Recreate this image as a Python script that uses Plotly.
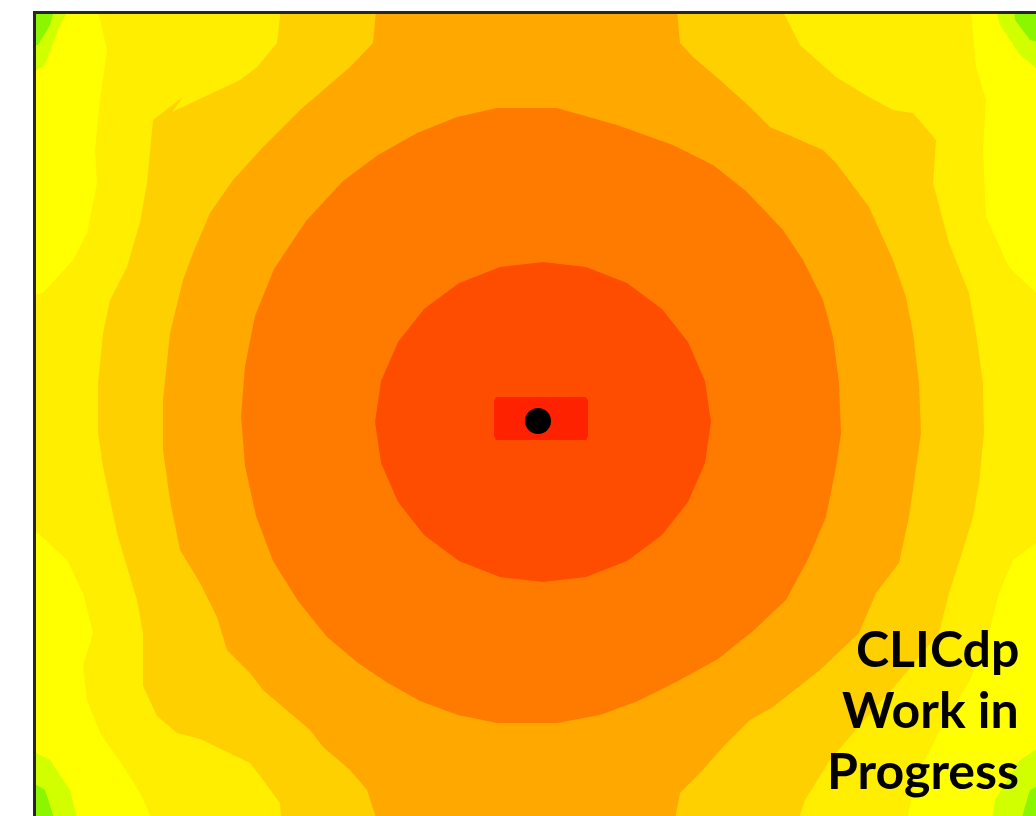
import plotly.graph_objects as go

# Band outlines of the occupancy map, coordinates in mm around the beam spot.
# Each band is drawn as a filled outline, from the outermost level inward.

yellow_bg = "#ffee00"

lobe_tl = [(-518, 431), (-445, 431), (-431, 371), (-438, 321), (-443, 271), (-441, 238),
           (-451, 188), (-465, 161), (-495, 128), (-518, 124)]
lobe_bl = [(-518, -409), (-381, -409), (-398, -372), (-415, -345), (-438, -312), (-451, -279),
           (-455, -245), (-445, -212), (-455, -172), (-471, -139), (-500, -112), (-518, -112)]
lobe_tr = [(431, 431), (438, 354), (448, 321), (445, 271), (448, 204), (471, 154),
           (498, 128), (512, 121), (512, 431)]
lobe_br = [(512, -122), (498, -122), (475, -139), (461, -172), (451, -212), (432, -259),
           (402, -309), (377, -359), (367, -409), (512, -409)]

lime_tl = [(-518, 431), (-458, 431), (-478, 396), (-493, 356), (-518, 341)]
lime_tr = [(452, 431), (512, 431), (512, 341), (482, 366), (462, 396)]
lime_bl = [(-518, -324), (-488, -339), (-468, -369), (-458, -409), (-518, -409)]
lime_br = [(512, -319), (482, -339), (457, -379), (452, -409), (512, -409)]

green_tl = [(-518, 431), (-478, 431), (-488, 396), (-500, 376), (-518, 376)]
green_tr = [(474, 431), (512, 431), (512, 376), (492, 381), (477, 401)]
green_bl = [(-518, -354), (-493, -369), (-480, -409), (-518, -409)]
green_br = [(512, -359), (492, -369), (480, -409), (512, -409)]

band_gold = [(-255, 431), (234, 431), (262, 376), (298, 344), (331, 324), (355, 311), (375, 308),
             (398, 281), (395, 238), (411, 178), (431, 128), (438, 88), (445, 38), (446, -12),
             (441, -62), (435, -96), (425, -129), (411, -172), (401, -212), (362, -259),
             (322, -304), (292, -339), (267, -379), (257, -409), (-256, -409), (-258, -382),
             (-275, -359), (-288, -342), (-338, -318), (-361, -312), (-381, -295), (-395, -265),
             (-395, -212), (-401, -179), (-411, -146), (-421, -112), (-428, -79), (-435, -46),
             (-440, -12), (-440, 38), (-435, 88), (-428, 121), (-411, 154), (-398, 199),
             (-391, 238), (-388, 274), (-385, 301), (-355, 324), (-366, 309), (-298, 341),
             (-281, 354), (-261, 378)]

band_amber = [(-160, 431), (137, 431), (142, 378), (155, 364), (182, 341), (212, 314), (232, 294),
              (262, 281), (285, 271), (298, 258), (331, 214), (355, 161), (368, 124), (375, 88),
              (381, 38), (383, -12), (378, -46), (371, -96), (361, -142), (338, -172),
              (321, -212), (282, -249), (235, -286), (212, -299), (185, -326), (162, -352),
              (142, -372), (135, -409), (-158, -409), (-171, -369), (-188, -349), (-215, -326),
              (-228, -309), (-255, -286), (-275, -269), (-288, -252), (-311, -229), (-321, -196),
              (-338, -162), (-358, -129), (-368, -79), (-375, -29), (-375, 21), (-368, 88),
              (-355, 141), (-345, 168), (-328, 208), (-305, 241), (-275, 274), (-238, 311),
              (-211, 334), (-188, 354), (-165, 378)]

band_orange = [(-41, 313), (19, 313), (79, 296), (135, 276), (175, 256), (208, 230), (245, 191),
               (265, 161), (285, 121), (295, 84), (301, 38), (303, -12), (298, -46), (288, -96),
               (271, -136), (248, -179), (215, -210), (180, -238), (140, -260), (100, -280),
               (62, -294), (19, -302), (-41, -302), (-80, -294), (-118, -280), (-150, -262),
               (-180, -242), (-211, -216), (-240, -180), (-265, -140), (-282, -95), (-293, -45),
               (-297, 5), (-293, 55), (-283, 105), (-264, 152), (-232, 200), (-195, 240),
               (-160, 266), (-121, 288), (-81, 304)]

band_vermilion = [(173, -1), (167, 40), (150, 79), (124, 112), (89, 138), (48, 154), (5, 159),
                  (-38, 154), (-79, 138), (-114, 112), (-140, 79), (-157, 40), (-163, -1),
                  (-157, -42), (-140, -81), (-114, -114), (-79, -140), (-38, -156), (5, -161),
                  (48, -156), (89, -140), (124, -114), (150, -81), (167, -42)]

band_core = [(-44, 20), (-42, 24), (48, 24), (50, 20), (50, -15), (48, -19), (-42, -19), (-44, -15)]

beam_spot = (0, 0)

layers = [
    (lobe_tl, "#ffff00"), (lobe_bl, "#ffff00"), (lobe_tr, "#ffff00"), (lobe_br, "#ffff00"),
    (lime_tl, "#d2ff00"), (lime_tr, "#d2ff00"), (lime_bl, "#d2ff00"), (lime_br, "#d2ff00"),
    (green_tl, "#8cf500"), (green_tr, "#8cf500"), (green_bl, "#8cf500"), (green_br, "#8cf500"),
    (band_gold, "#ffd000"),
    (band_amber, "#ffa800"),
    (band_orange, "#ff7b00"),
    (band_vermilion, "#ff4d00"),
    (band_core, "#ff2200"),
]

fig = go.Figure()
for pts, col in layers:
    xs = [p[0] for p in pts] + [pts[0][0]]
    ys = [p[1] for p in pts] + [pts[0][1]]
    fig.add_trace(go.Scatter(x=xs, y=ys, mode="lines", fill="toself", fillcolor=col,
                             line=dict(width=0, color=col), hoverinfo="skip", showlegend=False))

fig.add_trace(go.Scatter(x=[beam_spot[0]], y=[beam_spot[1]], mode="markers",
                         marker=dict(size=26, color="black"), hoverinfo="skip", showlegend=False))

label_lines = ["CLICdp", "Work in", "Progress"]
label_y = [-227, -288, -349]
for txt, yy in zip(label_lines, label_y):
    fig.add_annotation(x=482, y=yy, xref="x", yref="y", text=txt, showarrow=False,
                       xanchor="right", yanchor="middle", borderpad=0,
                       font=dict(family="Lato", size=50, color="black", weight="bold"))

fig.update_layout(
    width=1036, height=816,
    margin=dict(l=36, t=14, r=0, b=0, autoexpand=False),
    paper_bgcolor="white", plot_bgcolor=yellow_bg,
    xaxis=dict(range=[-502, 498], side="top", showline=True, linecolor="#262626", linewidth=3,
               showgrid=False, zeroline=False, showticklabels=False, ticks=""),
    yaxis=dict(range=[-395, 407], side="left", showline=True, linecolor="#262626", linewidth=3,
               showgrid=False, zeroline=False, showticklabels=False, ticks=""),
)

fig.write_html("out.html")
